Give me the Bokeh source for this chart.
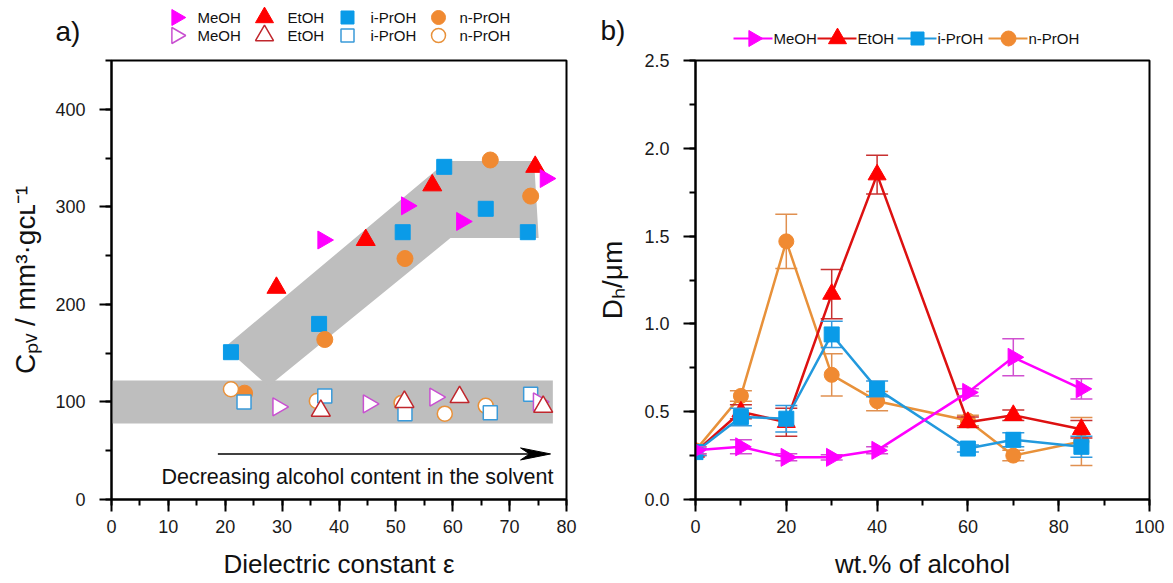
import numpy as np
from bokeh.plotting import figure
from bokeh.models import Range1d, SingleIntervalTicker, PrintfTickFormatter
from bokeh.layouts import column, row
from bokeh.embed import file_html
from bokeh.resources import INLINE
from bokeh.core.properties import value

FONT = "Liberation Sans"

# ---------------- panel a data: C_pv vs dielectric constant ----------------
a_meoh_f_eps = [37.2, 51.9, 61.6, 76.3]
a_meoh_f_cpv = [266, 301, 285, 329]
a_etoh_f_eps = [29.0, 44.7, 56.4, 74.5]
a_etoh_f_cpv = [217, 266, 322, 341]
a_ipr_f_eps = [21.0, 36.5, 51.2, 58.5, 65.8, 73.2]
a_ipr_f_cpv = [151, 180, 274, 341, 298, 274]
a_npr_f_eps = [23.4, 37.5, 51.6, 66.6, 73.7]
a_npr_f_cpv = [109, 164, 247, 348, 311]

a_meoh_o_eps = [29.3, 45.2, 56.9, 75.1]
a_meoh_o_cpv = [95, 98, 105, 100]
a_etoh_o_eps = [36.8, 51.5, 61.2, 75.9]
a_etoh_o_cpv = [91, 100, 105, 95]
a_ipr_o_eps = [23.3, 37.5, 51.6, 66.6, 73.7]
a_ipr_o_cpv = [100, 106, 88, 89, 108]
a_npr_o_eps = [21.0, 36.1, 51.0, 58.6, 65.8]
a_npr_o_cpv = [113, 101, 99, 88, 96]

band_flat_eps = [0, 77.6]
band_flat_cpv = [78, 122]
band_diag_eps = [19.9, 59.0, 74.3, 75.1, 59.6, 27.6]
band_diag_cpv = [156, 347, 347, 268, 268, 116]
arrow_eps = [18.7, 77.2]
arrow_cpv = 46.7
arrow_text = "Decreasing alcohol content in the solvent"
ylabel_a = "Cₚᵥ / mm³·gᴄʟ⁻¹"
xlabel_a = "Dielectric constant ε"

# ---------------- panel b data: D_h vs wt.% alcohol ----------------
b_wt = [0, 10, 20, 30, 40, 60, 70, 85]
b_meoh = [0.28, 0.30, 0.24, 0.24, 0.28, 0.61, 0.81, 0.63]
b_meoh_err = [0.02, 0.04, 0.02, 0.015, 0.02, 0.02, 0.105, 0.057]
b_etoh = [0.27, 0.50, 0.44, 1.17, 1.85, 0.44, 0.48, 0.40]
b_etoh_err = [0.02, 0.04, 0.08, 0.14, 0.11, 0.03, 0.03, 0.05]
b_ipr = [0.27, 0.47, 0.46, 0.94, 0.63, 0.29, 0.34, 0.30]
b_ipr_err = [0.02, 0.05, 0.075, 0.075, 0.045, 0.02, 0.04, 0.06]
b_npr = [0.28, 0.59, 1.47, 0.71, 0.56, 0.45, 0.25, 0.33]
b_npr_err = [0.02, 0.03, 0.155, 0.12, 0.055, 0.03, 0.03, 0.137]
ylabel_b = "Dₕ/μm"
xlabel_b = "wt.% of alcohol"

names = ["MeOH", "EtOH", "i-PrOH", "n-PrOH"]

# colours
C_MAG, C_MAG_O = "#FF00FF", "#C850D0"
C_RED, C_RED_O = "#FF0000", "#C0272D"
C_BLU, C_BLU_O = "#0A9BE8", "#3A9AD9"
C_ORA, C_ORA_O = "#F08A32", "#E8913A"
GRAY = "#BEBEBE"
TXT = "#111111"

RIGHT = -np.pi / 2
TOP_H = 48
MAIN_H = 583 - TOP_H
B_TOP, B_BOT = 12, 84          # borders of the main plots


def style(p, xint, yint, yfmt=None):
    p.xaxis.ticker = SingleIntervalTicker(interval=xint, num_minor_ticks=2)
    p.yaxis.ticker = SingleIntervalTicker(interval=yint, num_minor_ticks=2)
    if yfmt:
        p.yaxis.formatter = PrintfTickFormatter(format=yfmt)
    for ax in (p.xaxis[0], p.yaxis[0]):
        ax.axis_line_width = 2
        ax.major_tick_line_width = 2
        ax.minor_tick_line_width = 2
        ax.major_tick_in = 0
        ax.major_tick_out = 12
        ax.minor_tick_in = 0
        ax.minor_tick_out = 6
        ax.major_label_text_font = FONT
        ax.major_label_text_font_size = "18px"
        ax.major_label_text_color = "#1a1a1a"
        ax.axis_label_text_font = FONT
        ax.axis_label_text_font_style = "normal"
        ax.axis_label_text_color = TXT
    p.xaxis.axis_label_text_font_size = "26px"
    p.xaxis.axis_label_standoff = 13
    p.yaxis.axis_label_text_font_size = "28px"
    p.xaxis.major_label_standoff = 8
    p.yaxis.major_label_standoff = 14
    p.outline_line_color = "black"
    p.outline_line_width = 2
    p.outline_line_alpha = 1
    p.xgrid.visible = False
    p.ygrid.visible = False


def blank(width, height):
    """Empty helper canvas whose data coordinates are page pixels (y downwards)."""
    f = figure(width=width, height=height, x_range=Range1d(0, width), y_range=Range1d(height, 0),
               output_backend="svg", toolbar_location=None, x_axis_type=None, y_axis_type=None,
               min_border=0)
    f.outline_line_color = None
    f.grid.visible = False
    return f


# ---------------- panel a ----------------
pa = figure(width=580, height=MAIN_H, x_range=Range1d(0, 80), y_range=Range1d(0, 450),
            output_backend="svg", toolbar_location=None,
            min_border_left=111, min_border_right=14, min_border_top=B_TOP, min_border_bottom=B_BOT)
style(pa, 10, 100)
pa.xaxis.axis_label = xlabel_a
pa.yaxis.axis_label = ylabel_a
pa.yaxis.axis_label_standoff = 11

pa.quad(left=band_flat_eps[0], right=band_flat_eps[1], bottom=band_flat_cpv[0], top=band_flat_cpv[1],
        fill_color=GRAY, line_color=None)
pa.patch(band_diag_eps, band_diag_cpv, fill_color=GRAY, line_color=None)

pa.scatter(a_ipr_f_eps, a_ipr_f_cpv, marker="square", size=15, fill_color=C_BLU, line_color=C_BLU)
pa.scatter(a_npr_f_eps, a_npr_f_cpv, marker="circle", size=16, fill_color=C_ORA, line_color=C_ORA)
pa.scatter(a_etoh_f_eps, a_etoh_f_cpv, marker="triangle", size=19, fill_color=C_RED, line_color=C_RED)
pa.scatter(a_meoh_f_eps, a_meoh_f_cpv, marker="triangle", angle=RIGHT, size=18, fill_color=C_MAG, line_color=C_MAG)

pa.scatter(a_npr_o_eps, a_npr_o_cpv, marker="circle", size=15, fill_color="white", line_color=C_ORA_O, line_width=1.5)
pa.scatter(a_ipr_o_eps, a_ipr_o_cpv, marker="square", size=14, fill_color="white", line_color=C_BLU_O, line_width=1.5)
pa.scatter(a_meoh_o_eps, a_meoh_o_cpv, marker="triangle", angle=RIGHT, size=18, fill_color="white", line_color=C_MAG_O, line_width=1.5)
pa.scatter(a_etoh_o_eps, a_etoh_o_cpv, marker="triangle", size=19, fill_color="white", line_color=C_RED_O, line_width=1.5)

# arrow with a long narrow head
pxu = 455 / 80.0
pyu = 439 / 450.0
head_len = 30 / pxu
head_w = 6 / pyu
pa.line([arrow_eps[0], arrow_eps[1] - head_len * 0.6], [arrow_cpv, arrow_cpv], line_color="black", line_width=1.5)
tip = arrow_eps[1]
pa.patch([tip, tip - head_len, tip - head_len * 0.7, tip - head_len],
         [arrow_cpv, arrow_cpv + head_w, arrow_cpv, arrow_cpv - head_w],
         fill_color="black", line_color="black")
pa.text(x=[arrow_eps[1] + 0.5], y=[arrow_cpv - 23 / pyu], text=[arrow_text], text_align="right",
        text_baseline="middle", text_font=value(FONT), text_font_size="21.5px", text_color=TXT)

# ---------------- panel b ----------------
pb = figure(width=593, height=MAIN_H, x_range=Range1d(0, 100), y_range=Range1d(0, 2.5),
            output_backend="svg", toolbar_location=None,
            min_border_left=115, min_border_right=24, min_border_top=B_TOP, min_border_bottom=B_BOT)
style(pb, 20, 0.5, "%.1f")
pb.xaxis.axis_label = xlabel_b
pb.yaxis.axis_label = ylabel_b
pb.yaxis.axis_label_standoff = 13

series = [
    (b_npr, b_npr_err, "circle", 15, 0, C_ORA, "#E8913A", "#E09050"),
    (b_etoh, b_etoh_err, "triangle", 18, 0, C_RED, "#DD1111", "#C83030"),
    (b_ipr, b_ipr_err, "square", 15, 0, C_BLU, "#2299DD", "#3399DD"),
    (b_meoh, b_meoh_err, "triangle", 18, RIGHT, C_MAG, "#FF00FF", "#D050D0"),
]
for vals, err, mk, sz, ang, mc, lc, ec in series:
    v = np.array(vals)
    e = np.array(err)
    pb.segment(x0=b_wt, y0=list(v - e), x1=b_wt, y1=list(v + e), line_color=ec, line_width=1.5)
    pb.scatter(b_wt, list(v + e), marker="dash", size=22, line_color=ec, line_width=1.5)
    pb.scatter(b_wt, list(v - e), marker="dash", size=22, line_color=ec, line_width=1.5)
    pb.line(b_wt, vals, line_color=lc, line_width=2.5)
    pb.scatter(b_wt, vals, marker=mk, size=sz, angle=ang, fill_color=mc, line_color=mc)

# ---------------- top band: panel letters and legends ----------------
top = blank(1173, TOP_H)
top.text(x=[55, 600], y=[31, 30], text=["a)", "b)"], text_baseline="middle",
         text_font=value(FONT), text_font_size="28px", text_color=TXT)

leg_a_mx = [176, 264, 347, 438]
leg_a_tx = [197, 287, 370, 459]
leg_rows = [17, 35]
fill_cols = [C_MAG, C_RED, C_BLU, C_ORA]
open_cols = [C_MAG_O, C_RED_O, C_BLU_O, C_ORA_O]
leg_mk = [("triangle", 16, RIGHT), ("triangle", 18, 0), ("square", 13, 0), ("circle", 14, 0)]
for i, (mk, sz, ang) in enumerate(leg_mk):
    top.scatter([leg_a_mx[i]], [leg_rows[0]], marker=mk, size=sz, angle=ang,
                fill_color=fill_cols[i], line_color=fill_cols[i])
    top.scatter([leg_a_mx[i]], [leg_rows[1]], marker=mk, size=sz, angle=ang,
                fill_color="white", line_color=open_cols[i], line_width=1.5)
for ry in leg_rows:
    top.text(x=leg_a_tx, y=[ry] * 4, text=names, text_baseline="middle",
             text_font=value(FONT), text_font_size="15px", text_color=TXT)

leg_b_mx = [753, 837, 917, 1008]
leg_b_y = 38
leg_b_line = ["#FF00FF", "#DD1111", "#2299DD", "#E8913A"]
leg_b_mk = [("triangle", 16, RIGHT), ("triangle", 18, 0), ("square", 13, 0), ("circle", 15, 0)]
for i, (mk, sz, ang) in enumerate(leg_b_mk):
    top.segment(x0=[leg_b_mx[i] - 20], y0=[leg_b_y], x1=[leg_b_mx[i] + 19], y1=[leg_b_y],
                line_color=leg_b_line[i], line_width=2)
    top.scatter([leg_b_mx[i]], [leg_b_y], marker=mk, size=sz, angle=ang,
                fill_color=fill_cols[i], line_color=fill_cols[i])
top.text(x=[m + 20 for m in leg_b_mx], y=[leg_b_y] * 4, text=names, text_baseline="middle",
         text_font=value(FONT), text_font_size="15px", text_color=TXT)

layout = column(top, row(pa, pb))
open("out.html", "w").write(file_html(layout, INLINE))
